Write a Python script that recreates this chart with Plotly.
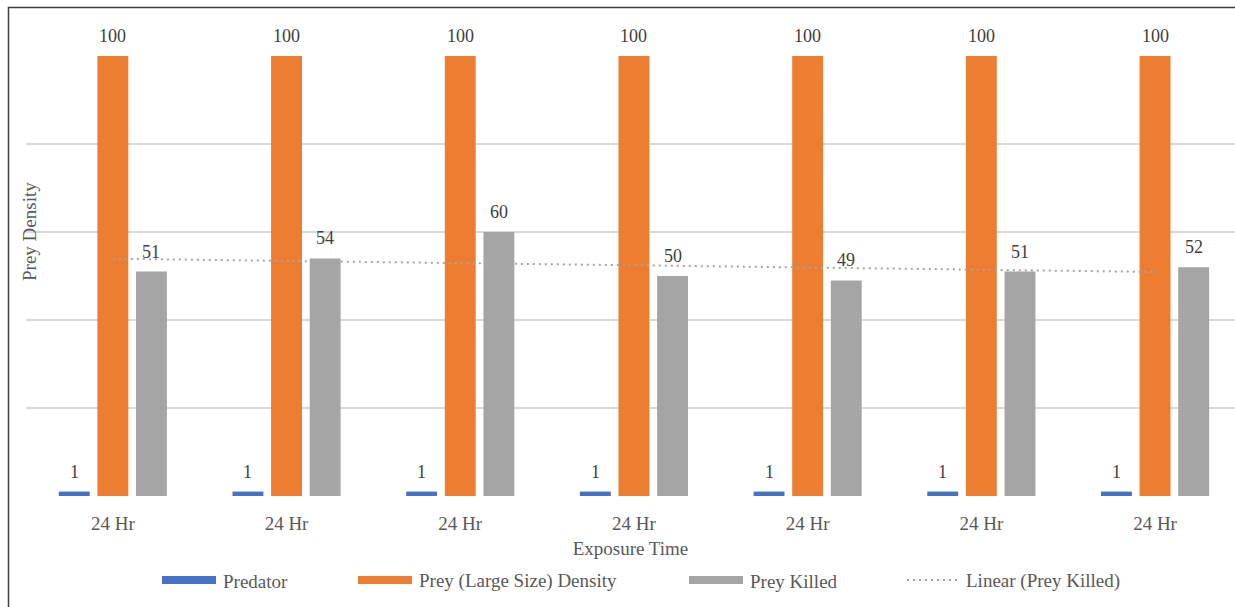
import numpy as np
import plotly.graph_objects as go

# Data
groups = ["24 Hr"] * 7
predator = [1, 1, 1, 1, 1, 1, 1]
prey_density = [100, 100, 100, 100, 100, 100, 100]
prey_killed = [51, 54, 60, 50, 49, 51, 52]

series_names = ["Predator", "Prey (Large Size) Density", "Prey Killed"]
series_colors = ["#4472C4", "#ED7D31", "#A5A5A5"]
trend_name = "Linear (Prey Killed)"

W, H = 1235, 607
ML, MR, MT, MB = 26, 0, 56, 111
PW, PH = W - ML - MR, H - MT - MB
SLOT = 173.7  # pixels per category
BARGAP = 0.333
SERIF = "Liberation Serif"

x = np.arange(len(groups))
fig = go.Figure()

for name, vals, col in zip(series_names, [predator, prey_density, prey_killed], series_colors):
    fig.add_trace(go.Bar(x=x, y=vals, name=name, marker=dict(color=col, line=dict(width=0)),
                         showlegend=False, hoverinfo="y"))

# Linear trendline fitted to Prey Killed
k, b0 = np.polyfit(x + 1, prey_killed, 1)
trend = k * (x + 1) + b0
fig.add_trace(go.Scatter(x=x, y=trend, mode="lines", name=trend_name, showlegend=False,
                         line=dict(color="#A5A5A5", width=2, dash="2px,4px")))

# Data labels above each bar
bar_w = (1 - BARGAP) / 3
offsets = [-bar_w, 0, bar_w]
annotations = []
for off, vals in zip(offsets, [predator, prey_density, prey_killed]):
    for xi, v in zip(x, vals):
        annotations.append(dict(x=xi + off, y=v, xref="x", yref="y", text=str(v),
                                showarrow=False, yshift=20, yanchor="middle",
                                font=dict(family=SERIF, size=18, color="#404040")))

def px_x(p):
    return (p - ML) / PW

def px_y(p):
    return (H - MB - p) / PH

# Y axis title
annotations.append(dict(x=px_x(29), y=px_y(232), xref="paper", yref="paper", text="Prey Density",
                        textangle=-90, showarrow=False, xanchor="center", yanchor="middle",
                        font=dict(family=SERIF, size=19, color="#595959")))

# Legend
shapes = []
legend_items = [
    (162, 216, "Predator", "#4472C4", "bar"),
    (358, 412, "Prey (Large Size) Density", "#ED7D31", "bar"),
    (689, 743, "Prey Killed", "#A5A5A5", "bar"),
    (907, 959, trend_name, "#A5A5A5", "line"),
]
ly = 580
for x0, x1, label, col, kind in legend_items:
    if kind == "bar":
        shapes.append(dict(type="rect", xref="paper", yref="paper", x0=px_x(x0), x1=px_x(x1),
                           y0=px_y(ly - 4), y1=px_y(ly + 4), fillcolor=col, line=dict(width=0)))
    else:
        shapes.append(dict(type="line", xref="paper", yref="paper", x0=px_x(x0), x1=px_x(x1),
                           y0=px_y(ly), y1=px_y(ly), line=dict(color=col, width=2, dash="2px,4px")))
    annotations.append(dict(x=px_x(x1 + 5), y=px_y(ly + 1), xref="paper", yref="paper", text=label,
                            showarrow=False, xanchor="left", yanchor="middle",
                            font=dict(family=SERIF, size=19, color="#595959")))

# Outer frame
shapes.append(dict(type="rect", xref="paper", yref="paper", x0=px_x(8.5), x1=px_x(1245),
                   y0=px_y(620), y1=px_y(7.5), line=dict(color="#404040", width=1.5),
                   fillcolor="rgba(0,0,0,0)", layer="above"))

fig.update_layout(
    width=W, height=H,
    margin=dict(l=ML, r=MR, t=MT, b=MB, pad=0),
    paper_bgcolor="white", plot_bgcolor="white",
    font=dict(family=SERIF),
    barmode="group", bargap=BARGAP, bargroupgap=0.2,
    showlegend=False,
    annotations=annotations, shapes=shapes,
    xaxis=dict(range=[-0.5, -0.5 + PW / SLOT], tickmode="array", tickvals=list(x), ticktext=groups,
               showgrid=False, zeroline=False, showline=False, ticks="",
               ticklabelstandoff=14,
               tickfont=dict(family=SERIF, size=19, color="#595959"),
               title=dict(text="Exposure Time", standoff=8,
                          font=dict(family=SERIF, size=19, color="#595959"))),
    yaxis=dict(range=[0, 100], tickvals=[0, 20, 40, 60, 80, 100], showticklabels=False,
               showgrid=True, gridcolor="#D9D9D9", gridwidth=1.5, zeroline=False, showline=False),
)

fig.write_html("out.html")
